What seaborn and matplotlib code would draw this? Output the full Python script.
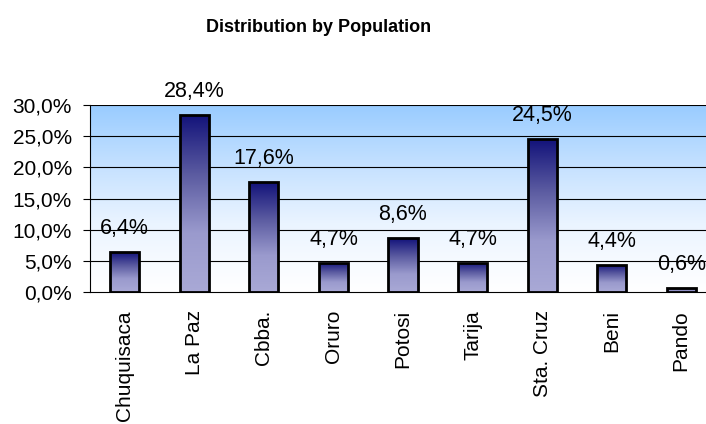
import numpy as np
import pandas as pd
import matplotlib
matplotlib.use('Agg')
import matplotlib.pyplot as plt
from matplotlib.colors import LinearSegmentedColormap
import seaborn as sns

# datos
departments = ['Chuquisaca', 'La Paz', 'Cbba.', 'Oruro', 'Potosi',
               'Tarija', 'Sta. Cruz', 'Beni', 'Pando']
population_pct = [6.4, 28.4, 17.6, 4.7, 8.6, 4.7, 24.5, 4.4, 0.6]
y_ticks = [0, 5, 10, 15, 20, 25, 30]

df = pd.DataFrame({'dept': departments, 'pct': population_pct})

sns.set_style('white')
plt.rcParams['font.family'] = ['Liberation Sans', 'DejaVu Sans']
plt.rcParams['text.color'] = 'black'
plt.rcParams['xtick.color'] = 'black'
plt.rcParams['ytick.color'] = 'black'

fig = plt.figure(figsize=(7.06, 4.24), dpi=100)
ax = fig.add_axes([90 / 706, 132 / 424, 626 / 706, 187 / 424])

sns.barplot(data=df, x='dept', y='pct', ax=ax, width=0.42,
            color='#9a9acd', edgecolor='black', linewidth=2.0, zorder=3)

# fondo con degradado (blanco abajo, celeste arriba)
bg_cmap = LinearSegmentedColormap.from_list('bg', ['#ffffff', '#eaf4ff', '#c3e0ff', '#99ccff'])
grad = np.linspace(0, 1, 256).reshape(-1, 1) ** 1.1
ax.imshow(grad, cmap=bg_cmap, aspect='auto', origin='lower',
          extent=[-0.5, 8.5, 0, 30], zorder=0)

# degradado en las barras
bar_cmap = LinearSegmentedColormap.from_list('bar', ['#a9a9d6', '#9a9acd', '#5a5aa0', '#12127a'])
bar_grad = np.linspace(0, 1, 256).reshape(-1, 1)
for patch in list(ax.patches):
    patch.set_facecolor('none')
    x0, y0 = patch.get_x(), patch.get_y()
    w, h = patch.get_width(), patch.get_height()
    im = ax.imshow(bar_grad, cmap=bar_cmap, aspect='auto', origin='lower',
                   extent=[x0, x0 + w, y0, y0 + h], zorder=2)
    im.set_clip_path(patch)

ax.set_xlim(-0.5, 8.5)
ax.set_ylim(0, 30)

# lineas de grilla
for t in y_ticks[1:]:
    ax.axhline(t, color='black', lw=0.8, zorder=1)

# etiquetas sobre las barras
for i, v in enumerate(population_pct):
    ax.annotate(f'{v:.1f}%'.replace('.', ','), (i, v), xytext=(0, 13),
                textcoords='offset points', ha='center', va='baseline',
                fontsize=15.5, zorder=4, annotation_clip=False)

ax.set_yticks(y_ticks)
ax.set_yticklabels([f'{t:.1f}%'.replace('.', ',') for t in y_ticks], fontsize=15)
ax.set_xticks(range(len(departments)))
ax.set_xticklabels(departments, rotation=90, fontsize=15)
ax.set_xticks(np.arange(-0.5, 9, 1), minor=True)
ax.tick_params(axis='x', which='major', length=0, pad=13)
ax.tick_params(axis='x', which='minor', length=5, width=0.8, direction='out', color='black')
ax.tick_params(axis='y', length=5, width=0.8, direction='out', color='black', pad=8, left=True)
ax.set_xlabel('')
ax.set_ylabel('')

for s in ['top', 'right']:
    ax.spines[s].set_visible(False)
ax.spines['left'].set_color('black')
ax.spines['bottom'].set_color('black')
ax.spines['left'].set_linewidth(0.8)
ax.spines['bottom'].set_linewidth(0.8)

fig.text(319 / 706, 1 - 28 / 424, 'Distribution by Population', ha='center', va='center',
         fontsize=13, fontweight='bold')

fig.savefig('out.png', dpi=100)
